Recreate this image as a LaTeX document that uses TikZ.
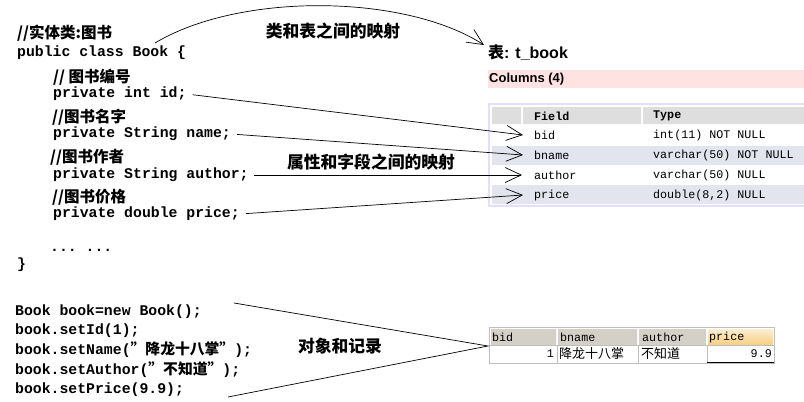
\documentclass[tikz,border=0pt]{standalone}
\usepackage{fontspec}
\setsansfont{Liberation Sans}
\setmonofont{Liberation Mono}
\newfontfamily\cjk{Noto Sans CJK SC}
\usetikzlibrary{arrows.meta,positioning}
\definecolor{bandPink}{RGB}{255,226,226}
\definecolor{frameLav}{RGB}{228,222,250}
\definecolor{headGray}{RGB}{222,222,222}
\definecolor{rowBlue}{RGB}{226,229,238}
\definecolor{recHead}{RGB}{212,208,200}
\definecolor{recOrange}{RGB}{247,206,128}
\definecolor{gridGray}{RGB}{190,190,190}

\newcommand{\codefont}{\ttfamily\bfseries\fontsize{14.8}{16}\selectfont}
\newcommand{\cmtfont}{\cjk\bfseries\fontsize{15.5}{17}\selectfont}
\newcommand{\lblfont}{\cjk\bfseries\fontsize{16.8}{18}\selectfont}
\newcommand{\tblfont}{\ttfamily\fontsize{11.7}{13}\selectfont}

\begin{document}
\begin{tikzpicture}[x=1pt,y=-1pt,
    code/.style={anchor=west,inner sep=0pt,font=\codefont},
    cmt/.style={anchor=west,inner sep=0pt,font=\cmtfont},
    lbl/.style={inner sep=0pt,font=\lblfont},
    fld/.style={anchor=west,inner sep=0pt,font=\tblfont},
    ar/.style={-{Straight Barb[length=16pt,width=15pt]},line width=0.7pt},
    ln/.style={line width=0.7pt}]
  \useasboundingbox (0,0) rectangle (804,402);
  % entity class
  \node[cmt] (chead) at (17,33) {//实体类:图书};
  \node[code] (cclass) at (17,53) {public class Book \{};
  \node[cmt] (cmid) at (53,77) {// 图书编号};
  \node[code] (cid) at (53,94) {private int id;};
  \node[cmt] (cmname) at (52,117) {//图书名字};
  \node[code] (cname) at (53,134) {private String name;};
  \node[cmt] (cmauthor) at (50,157) {//图书作者};
  \node[code] (cauthor) at (53,175) {private String author;};
  \node[cmt] (cmprice) at (52,197) {//图书价格};
  \node[code] (cprice) at (53,214) {private double price;};
  \node[code] (cdots) at (50,250) {... ...};
  \node[code] (cend) at (17,265) {\}};
  % object code
  \node[code] (onew) at (15,312) {Book book=new Book();};
  \node[code] (oid) at (15,331) {book.setId(1);};
  \node[code] (oname) at (15,350) {book.setName({\cjk\bfseries ”降龙十八掌”});};
  \node[code] (oauthor) at (15,370) {book.setAuthor({\cjk\bfseries ”不知道”});};
  \node[code] (oprice) at (15,390) {book.setPrice(9.9);};
  % table structure
  \node[anchor=west,inner sep=0pt,font=\sffamily\bfseries\fontsize{16}{18}\selectfont] (tname) at (488,53) {{\cjk\bfseries 表}: t\_book};
  \fill[bandPink] (488,70) rectangle (804,88);
  \node[anchor=west,inner sep=0pt,font=\sffamily\bfseries\fontsize{13}{15}\selectfont] (tcols) at (489,79) {Columns (4)};
  \draw[frameLav,line width=1.5pt] (489,104) rectangle (808,206);
  \fill[headGray] (492,107) rectangle (521,124) (523,107) rectangle (641,124) (643,107) rectangle (804,124);
  \fill[rowBlue] (492,146) rectangle (804,165) (492,185) rectangle (804,204);
  \node[fld,font=\tblfont\bfseries] (hfield) at (534,116) {Field};
  \node[fld,font=\tblfont\bfseries] (htype) at (653,116) {Type};
  \node[fld] (fbid) at (534,135) {bid};
  \node[fld] (tbid) at (653,135) {int(11) NOT NULL};
  \node[fld] (fbname) at (534,155) {bname};
  \node[fld] (tbname) at (653,155) {varchar(50) NOT NULL};
  \node[fld] (fauthor) at (534,175) {author};
  \node[fld] (tauthor) at (653,175) {varchar(50) NULL};
  \node[fld] (fprice) at (534,195) {price};
  \node[fld] (tprice) at (653,195) {double(8,2) NULL};
  % record
  \draw[gridGray] (489,327) rectangle (774,363);
  \fill[recHead] (491,329) rectangle (556,345) (558,329) rectangle (637,345) (639,329) rectangle (706,345);
  \shade[top color=recOrange!35,bottom color=recOrange] (708,329) rectangle (773,345);
  \draw[gridGray] (489,345.5) -- (774,345.5) (557,345.5) -- (557,363) (638,345.5) -- (638,363) (707,345.5) -- (707,363);
  \draw[line width=1pt] (707,362.5) -- (774,362.5);
  \node[fld] (rbid) at (492,337) {bid};
  \node[fld] (rbname) at (560,337) {bname};
  \node[fld] (rauthor) at (642,337) {author};
  \node[fld] (rprice) at (709,337) {price};
  \node[fld,anchor=east] (vid) at (554,354) {1};
  \node[anchor=west,inner sep=0pt,font=\cjk\fontsize{13}{15}\selectfont] (vname) at (559,354) {降龙十八掌};
  \node[anchor=west,inner sep=0pt,font=\cjk\fontsize{13}{15}\selectfont] (vauthor) at (641,354) {不知道};
  \node[fld,anchor=east] (vprice) at (772,354) {9.9};
  % mappings
  \node[lbl] (lclass) at (333,31) {类和表之间的映射};
  \node[lbl] (lfield) at (371,162) {属性和字段之间的映射};
  \node[lbl] (lrecord) at (340,346) {对象和记录};
  \coordinate (cstart) at (155,43);
  \draw[ar] (cstart) .. controls (240,-8) and (405,-6) .. ([xshift=-4pt]tname.north west);
  \draw[ar,shorten <=6pt] (cid.east) -- ([xshift=-11pt]fbid.west);
  \draw[ar,shorten <=6pt] (cname.east) -- ([xshift=-11pt]fbname.west);
  \draw[ar,shorten <=5pt] (cauthor.east) -- ([xshift=-12pt]fauthor.west);
  \draw[ar,shorten <=6pt] (cprice.east) -- ([xshift=-11pt]fprice.west);
  \coordinate (otop) at (234,303);
  \coordinate (obot) at (228,397);
  \coordinate (rec) at (488,346);
  \draw[ln] (otop) -- (rec) -- (obot);
\end{tikzpicture}
\end{document}
